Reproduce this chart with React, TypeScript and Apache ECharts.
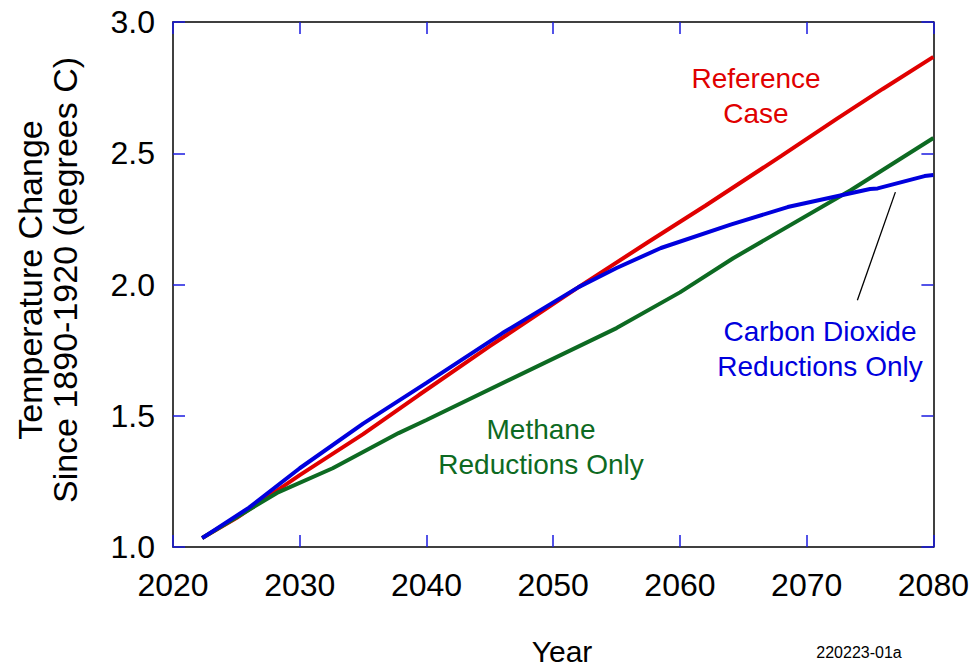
import React, { useEffect, useRef } from "react";
import * as echarts from "echarts";

const xTicks = [2020, 2030, 2040, 2050, 2060, 2070, 2080];
const yTicks = [1.0, 1.5, 2.0, 2.5, 3.0];

const referenceCase: [number, number][] = [
  [2022.3, 1.034], [2025, 1.11], [2030, 1.274], [2035, 1.43], [2039.4, 1.579],
  [2045, 1.765], [2052, 1.99], [2057.5, 2.162], [2062, 2.3], [2068, 2.49],
  [2072.4, 2.632], [2076, 2.745], [2080, 2.867],
];

const co2Only: [number, number][] = [
  [2022.3, 1.034], [2026, 1.15], [2030, 1.3], [2035, 1.47], [2040, 1.625],
  [2046, 1.815], [2052, 1.99], [2055, 2.063], [2058.5, 2.139], [2064, 2.228],
  [2068.5, 2.295], [2075, 2.364], [2075.6, 2.366], [2079.3, 2.413], [2080, 2.417],
];

const methaneOnly: [number, number][] = [
  [2022.3, 1.034], [2028.2, 1.206], [2032.6, 1.3], [2037.8, 1.434], [2040, 1.484],
  [2055, 1.834], [2060, 1.97], [2064.2, 2.1], [2073.5, 2.36], [2080, 2.558],
];

const pointer: [number, number][] = [[2074.0, 1.94], [2077.0, 2.352]];

const FONT = "'Liberation Sans', Arial, sans-serif";
const RED = "#e00000";
const BLUE = "#0000dd";
const GREEN = "#0d6a22";
const TICK = "#1a1ae0";

export default function App() {
  const ref = useRef<HTMLDivElement>(null);
  useEffect(() => {
    document.body.style.margin = "0";
    const chart = echarts.init(ref.current!, null, { renderer: "svg" });
    const axisLine = { show: true, onZero: false, lineStyle: { color: "#000", width: 1.5 } };
    const axisTick = { show: true, inside: true, length: 12, lineStyle: { color: TICK, width: 1.5 } };
    const xBase = {
      type: "value" as const,
      min: xTicks[0],
      max: xTicks[xTicks.length - 1],
      interval: 10,
      splitLine: { show: false },
      axisLine,
      axisTick,
    };
    const yBase = {
      type: "value" as const,
      min: yTicks[0],
      max: yTicks[yTicks.length - 1],
      interval: 0.5,
      splitLine: { show: false },
      axisLine,
      axisTick,
    };
    const lineSeries = (name: string, data: [number, number][], color: string) => ({
      name,
      type: "line",
      data,
      showSymbol: false,
      symbol: "none",
      lineStyle: { color, width: 4 },
      z: 3,
    });
    const txt = (text: string, x: number, y: number, color: string) => ({
      type: "text",
      x,
      y,
      style: {
        text,
        fill: color,
        font: `28px ${FONT}`,
        textAlign: "center",
        textVerticalAlign: "middle",
        lineHeight: 35,
      },
      z: 10,
    });
    chart.setOption({
      animation: false,
      grid: { left: 173, right: 36, top: 22, bottom: 123 },
      xAxis: [
        {
          ...xBase,
          position: "bottom",
          axisLabel: { show: true, margin: 22, fontSize: 32, color: "#000", fontFamily: FONT, formatter: (v: number) => String(v) },
        },
        { ...xBase, position: "top", axisLabel: { show: false } },
      ],
      yAxis: [
        {
          ...yBase,
          position: "left",
          axisLabel: { show: true, margin: 18, fontSize: 32, color: "#000", fontFamily: FONT, formatter: (v: number) => v.toFixed(1) },
        },
        { ...yBase, position: "right", axisLabel: { show: false } },
      ],
      series: [
        lineSeries("Reference Case", referenceCase, RED),
        lineSeries("Methane Reductions Only", methaneOnly, GREEN),
        {
          ...lineSeries("Carbon Dioxide Reductions Only", co2Only, BLUE),
          markLine: {
            silent: true,
            symbol: ["none", "none"],
            label: { show: false },
            lineStyle: { color: "#000", width: 1.3, type: "solid" },
            data: [[{ coord: pointer[0] }, { coord: pointer[1] }]],
          },
        },
      ],
      graphic: [
        txt("Reference\nCase", 756, 96, RED),
        txt("Carbon Dioxide\nReductions Only", 820, 349, BLUE),
        txt("Methane\nReductions Only", 541, 447, GREEN),
        {
          type: "text",
          x: 47,
          y: 280,
          rotation: Math.PI / 2,
          style: {
            text: "Temperature Change\nSince 1890-1920 (degrees C)",
            fill: "#000",
            font: `34px ${FONT}`,
            textAlign: "center",
            textVerticalAlign: "middle",
            lineHeight: 35,
          },
        },
        {
          type: "text",
          x: 562,
          y: 651,
          style: { text: "Year", fill: "#000", font: `30px ${FONT}`, textAlign: "center", textVerticalAlign: "middle" },
        },
        {
          type: "text",
          x: 859,
          y: 652,
          style: { text: "220223-01a", fill: "#000", font: `16px ${FONT}`, textAlign: "center", textVerticalAlign: "middle" },
        },
      ],
    });
    return () => chart.dispose();
  }, []);
  return <div ref={ref} style={{ width: 972, height: 670 }} />;
}
